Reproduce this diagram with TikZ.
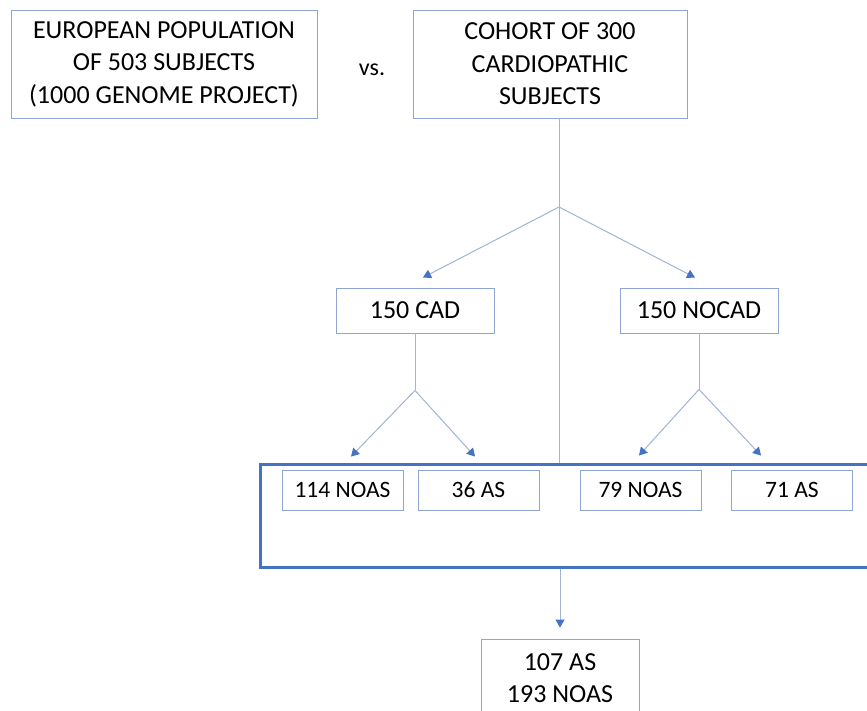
\documentclass[tikz,border=0pt]{standalone}
\usepackage{fontspec}
\setmainfont{Carlito}
\usetikzlibrary{arrows.meta}
\definecolor{boxline}{HTML}{8FA6D4}
\definecolor{linkline}{HTML}{A3B3D6}
\definecolor{tipblue}{HTML}{4472C4}

\begin{document}
\begin{tikzpicture}[x=1pt,y=-1pt,
  box/.style={draw=boxline,line width=0.9pt,inner sep=0pt,align=center,font=\fontsize{26}{32.5}\selectfont},
  smallbox/.style={box,minimum width=121pt,minimum height=40pt,font=\fontsize{23.5}{28}\selectfont},
  link/.style={draw=linkline,line width=1pt},
  arrowlink/.style={link,-{Triangle[width=9pt,length=8pt,color=tipblue]}}]
\clip (0,0) rectangle (867,711);
\fill [white] (0,0) rectangle (867,711);
% top row
\node [box,minimum width=306pt,minimum height=108pt] (euro) at (164,64) {EUROPEAN POPULATION\\OF 503 SUBJECTS\\(1000 GENOME PROJECT)};
\node [font=\fontsize{24}{28}\selectfont] (vs) at (372,70) {vs.};
\node [box,minimum width=274pt,minimum height=108pt] (cohort) at (550,64) {COHORT OF 300\\CARDIOPATHIC\\SUBJECTS};
% groups
\node [box,minimum width=158pt,minimum height=45pt] (cad) at (415,310.5) {150 CAD};
\node [box,minimum width=158pt,minimum height=45pt] (nocad) at (699,310.5) {150 NOCAD};
% subgroups
\node [draw=tipblue,line width=3pt,minimum width=620pt,minimum height=103pt] (grp) at (570,515.5) {};
\node [smallbox] (noasA) at (342.5,490) {114 NOAS};
\node [smallbox] (asA) at (478.5,490) {36 AS};
\node [smallbox] (noasB) at (640.5,490) {79 NOAS};
\node [smallbox] (asB) at (792,490) {71 AS};
\node [box,minimum width=158pt,minimum height=78pt] (total) at (560,678) {107 AS\\193 NOAS};
% split points
\coordinate (splitTop) at (559,207);
\coordinate (splitCad) at ([yshift=-57pt]cad.south);
\coordinate (splitNocad) at ([yshift=-56pt]nocad.south);
\draw [link] (cohort.south -| splitTop) -- (grp.north -| splitTop);
\draw [arrowlink] (splitTop) -- ([xshift=8pt,yshift=10pt]cad.north);
\draw [arrowlink] (splitTop) -- ([xshift=-4pt,yshift=10pt]nocad.north);
\draw [link] (cad.south) -- (splitCad);
\draw [arrowlink] (splitCad) -- ([xshift=8.5pt,yshift=13pt]noasA.north);
\draw [arrowlink] (splitCad) -- ([xshift=-3.5pt,yshift=13pt]asA.north);
\draw [link] (nocad.south) -- (splitNocad);
\draw [arrowlink] (splitNocad) -- ([xshift=-1.5pt,yshift=14pt]noasB.north);
\draw [arrowlink] (splitNocad) -- ([xshift=-31pt,yshift=14pt]asB.north);
\draw [arrowlink] (grp.south -| total.north) -- ([yshift=11pt]total.north);
\end{tikzpicture}
\end{document}
